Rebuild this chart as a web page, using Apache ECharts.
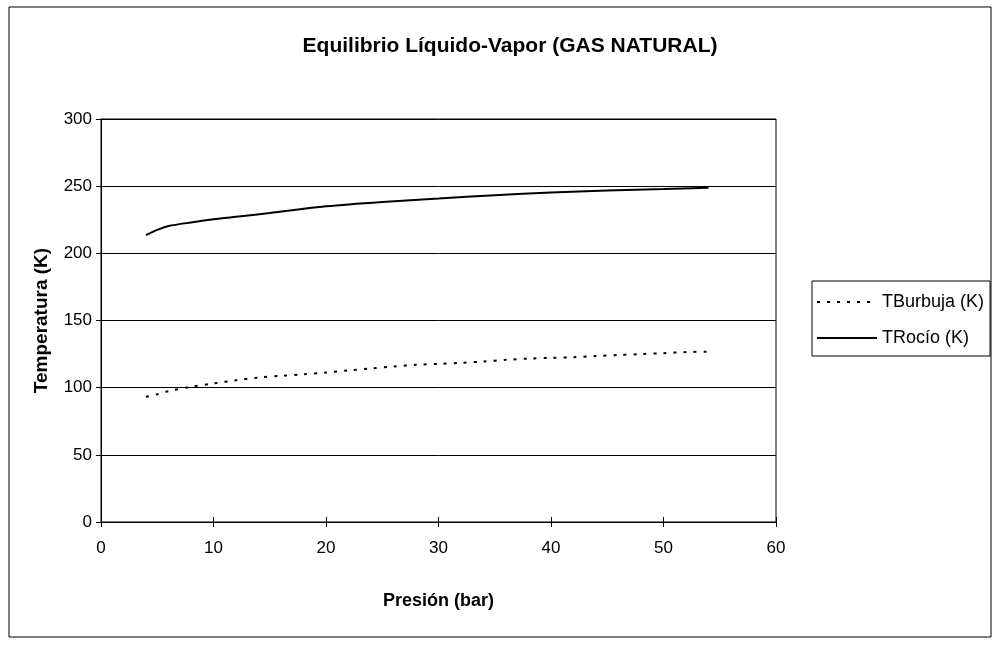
<!DOCTYPE html>
<html>
<head>
<meta charset="utf-8">
<script src="https://cdn.jsdelivr.net/npm/echarts@6/dist/echarts.min.js"></script>
<style>
html,body{margin:0;padding:0;background:#fff;}
#chart{width:994px;height:647px;}
</style>
</head>
<body>
<div id="chart"></div>
<script>
// Data
const titleText = 'Equilibrio Líquido-Vapor (GAS NATURAL)';
const xAxisName = 'Presión (bar)';
const yAxisName = 'Temperatura (K)';
const seriesNames = ['TBurbuja (K)', 'TRocío (K)'];

const burbujaP = [4, 5, 6, 8, 10, 12, 14, 16, 18, 20, 22, 24, 26, 28, 30, 32, 34, 36, 38, 40, 42, 44, 46, 48, 50, 52, 54];
const burbujaT = [93.2, 95.1, 97.4, 100.6, 103.1, 105.5, 107.5, 108.8, 110.0, 111.3, 112.8, 114.3, 115.8, 117.0, 117.7, 118.5, 119.5, 120.7, 121.6, 122.2, 122.7, 123.5, 124.3, 125.0, 125.7, 126.5, 126.8];

const rocioP = [4, 5, 6, 8, 10, 12, 15, 20, 25, 30, 35, 40, 45, 50, 54];
const rocioT = [213.5, 217.5, 220.3, 223, 225.3, 227.2, 230, 235, 238.3, 240.8, 243.3, 245.2, 246.7, 247.8, 248.8];

const xMin = 0, xMax = 60, xStep = 10;
const yMin = 0, yMax = 300, yStep = 50;

const pairs = (xs, ys) => xs.map((x, i) => [x, ys[i]]);
const FONT = "'Liberation Sans', Arial, sans-serif";

const chart = echarts.init(document.getElementById('chart'));
chart.setOption({
  backgroundColor: '#fff',
  animation: false,
  textStyle: { fontFamily: FONT, color: '#000' },
  title: {
    text: titleText,
    left: 505, top: 31, textAlign: 'center',
    textStyle: { fontFamily: FONT, fontSize: 21, fontWeight: 'bold', color: '#000' }
  },
  graphic: [{
    type: 'rect', silent: true,
    shape: { x: 9, y: 7, width: 982, height: 630 },
    style: { fill: 'none', stroke: '#000', lineWidth: 1 }
  }],
  legend: {
    orient: 'vertical',
    left: 812, top: 281,
    padding: [12, 6, 9, 4],
    itemGap: 18,
    itemWidth: 60, itemHeight: 12,
    borderColor: '#000', borderWidth: 1,
    backgroundColor: '#fff',
    itemStyle: { opacity: 0 },
    textStyle: { fontFamily: FONT, fontSize: 18, color: '#000' },
    data: seriesNames
  },
  grid: {
    left: 101, right: 218, top: 119, bottom: 125,
    show: true, borderColor: '#000', borderWidth: 1, backgroundColor: 'transparent'
  },
  xAxis: [{
    type: 'value', min: xMin, max: xMax, interval: xStep,
    name: xAxisName, nameLocation: 'middle', nameGap: 70,
    nameTextStyle: { fontFamily: FONT, fontSize: 18, fontWeight: 'bold', color: '#000' },
    axisLine: { show: true, lineStyle: { color: '#000', width: 1 } },
    axisTick: { show: true, inside: false, length: 5, lineStyle: { color: '#000' } },
    axisLabel: { fontFamily: FONT, fontSize: 17, color: '#000', margin: 18 },
    splitLine: { show: false }
  }, {
    type: 'value', min: xMin, max: xMax, interval: xStep,
    position: 'bottom', offset: 0,
    axisLine: { show: false },
    axisTick: { show: true, inside: true, length: 5, lineStyle: { color: '#000' } },
    axisLabel: { show: false },
    splitLine: { show: false }
  }],
  yAxis: {
    type: 'value', min: yMin, max: yMax, interval: yStep,
    name: yAxisName, nameLocation: 'middle', nameGap: 50, nameRotate: 90,
    nameTextStyle: { fontFamily: FONT, fontSize: 19, fontWeight: 'bold', color: '#000' },
    axisLine: { show: true, lineStyle: { color: '#000', width: 1 } },
    axisTick: { show: true, inside: false, length: 5, lineStyle: { color: '#000' } },
    axisLabel: { fontFamily: FONT, fontSize: 17, color: '#000', margin: 9 },
    splitLine: { show: true, lineStyle: { color: '#000', width: 1 } }
  },
  series: [{
    name: seriesNames[0], type: 'line', xAxisIndex: 0,
    data: pairs(burbujaP, burbujaT),
    showSymbol: false, symbol: 'none', smooth: 0.3,
    lineStyle: { color: '#000', width: 2, type: [3, 7] },
    itemStyle: { color: '#000' }
  }, {
    name: seriesNames[1], type: 'line', xAxisIndex: 0,
    data: pairs(rocioP, rocioT),
    showSymbol: false, symbol: 'none', smooth: 0.3,
    lineStyle: { color: '#000', width: 2, type: 'solid' },
    itemStyle: { color: '#000' }
  }]
});
</script>
</body>
</html>
